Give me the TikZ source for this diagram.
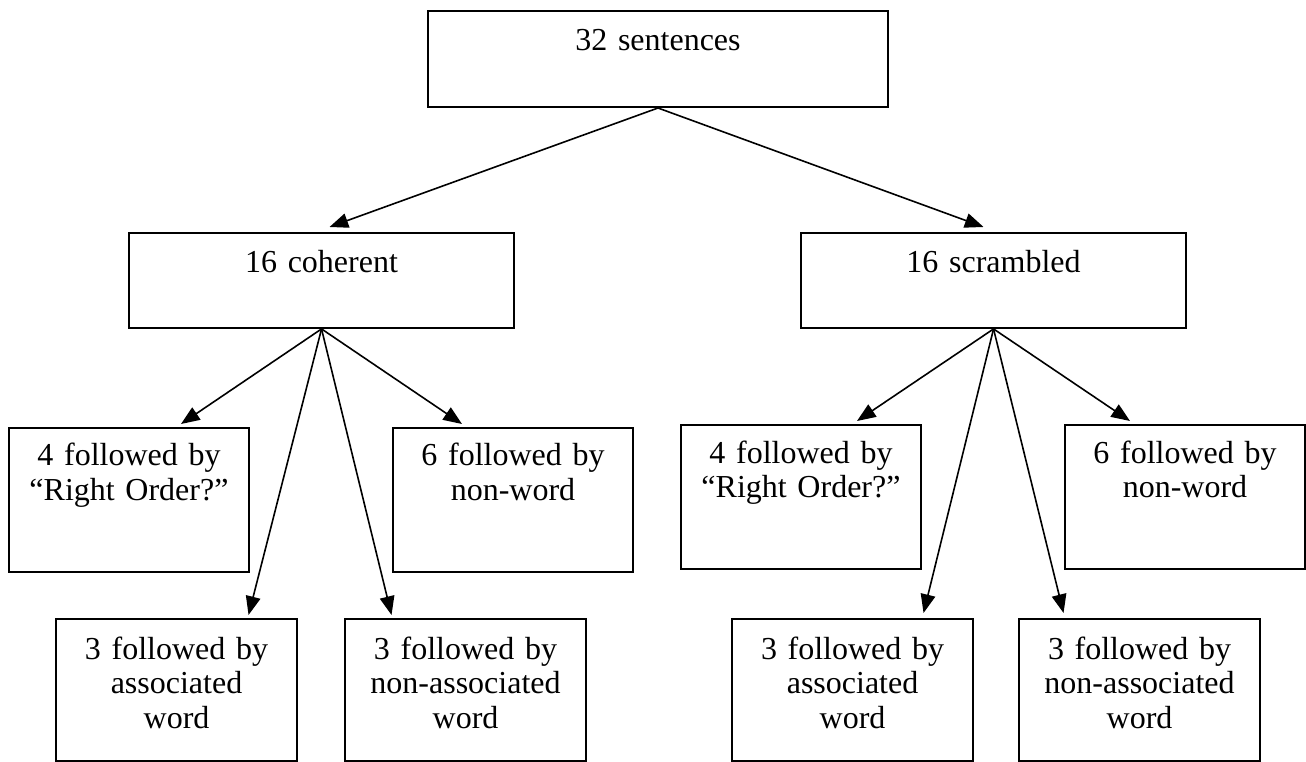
\documentclass[tikz,border=0pt]{standalone}
\usepackage{fontspec}
\setmainfont{Liberation Serif}
\usetikzlibrary{calc,arrows.meta}

\begin{document}
\begin{tikzpicture}[x=0.375pt, y=-0.375pt,
    box/.style={draw, line width=0.75pt, inner sep=0pt, anchor=north west, align=center,
      font=\fontsize{12pt}{13.1pt}\selectfont},
    root/.style={box, text width=172.5pt, text height=15pt, text depth=21pt},
    group/.style={box, text width=144.4pt, text height=15pt, text depth=20.6pt},
    upper/.style={box, text width=90pt, text height=14.25pt, text depth=39.75pt},
    lower/.style={box, text width=90.4pt, text height=15pt, text depth=38.25pt},
    arr/.style={line width=0.6pt, -{Triangle[length=7pt, width=5.5pt]}}]
  \useasboundingbox (0,0) rectangle (1306,762);
  % the whole set and its two halves
  \node[root] (all) at (427,10) {32 sentences};
  \node[group] (coh) at (128,232) {16 coherent};
  \node[group] (scr) at (800,232) {16 scrambled};
  % coherent branch
  \node[upper] (cq) at (8,427) {4 followed by\\“Right Order?”};
  \node[upper] (cn) at (392,427) {6 followed by\\non-word};
  \node[lower] (ca) at (55,618) {3 followed by\\associated\\word};
  \node[lower] (cu) at (344,618) {3 followed by\\non-associated\\word};
  % scrambled branch
  \node[upper] (sq) at (680,424) {4 followed by\\“Right Order?”};
  \node[upper] (sn) at (1064,424) {6 followed by\\non-word};
  \node[lower] (sa) at (731,618) {3 followed by\\associated\\word};
  \node[lower] (su) at (1018,618) {3 followed by\\non-associated\\word};
  % arrows, each ending a little above the top edge of its box
  \draw[arr] (all.south) -- ($(coh.north)+(8,-5)$);
  \draw[arr] (all.south) -- ($(scr.north)+(-10,-5)$);
  \foreach \a/\b/\dx/\dy in {coh/cq/52/-3, coh/cn/-51/-3, coh/ca/72/-3, coh/cu/-74/-3,
      scr/sq/56/-3, scr/sn/-55/-3, scr/sa/71/-5, scr/su/-76/-5}
    \draw[arr] (\a.south) -- ($(\b.north)+(\dx,\dy)$);
\end{tikzpicture}
\end{document}
